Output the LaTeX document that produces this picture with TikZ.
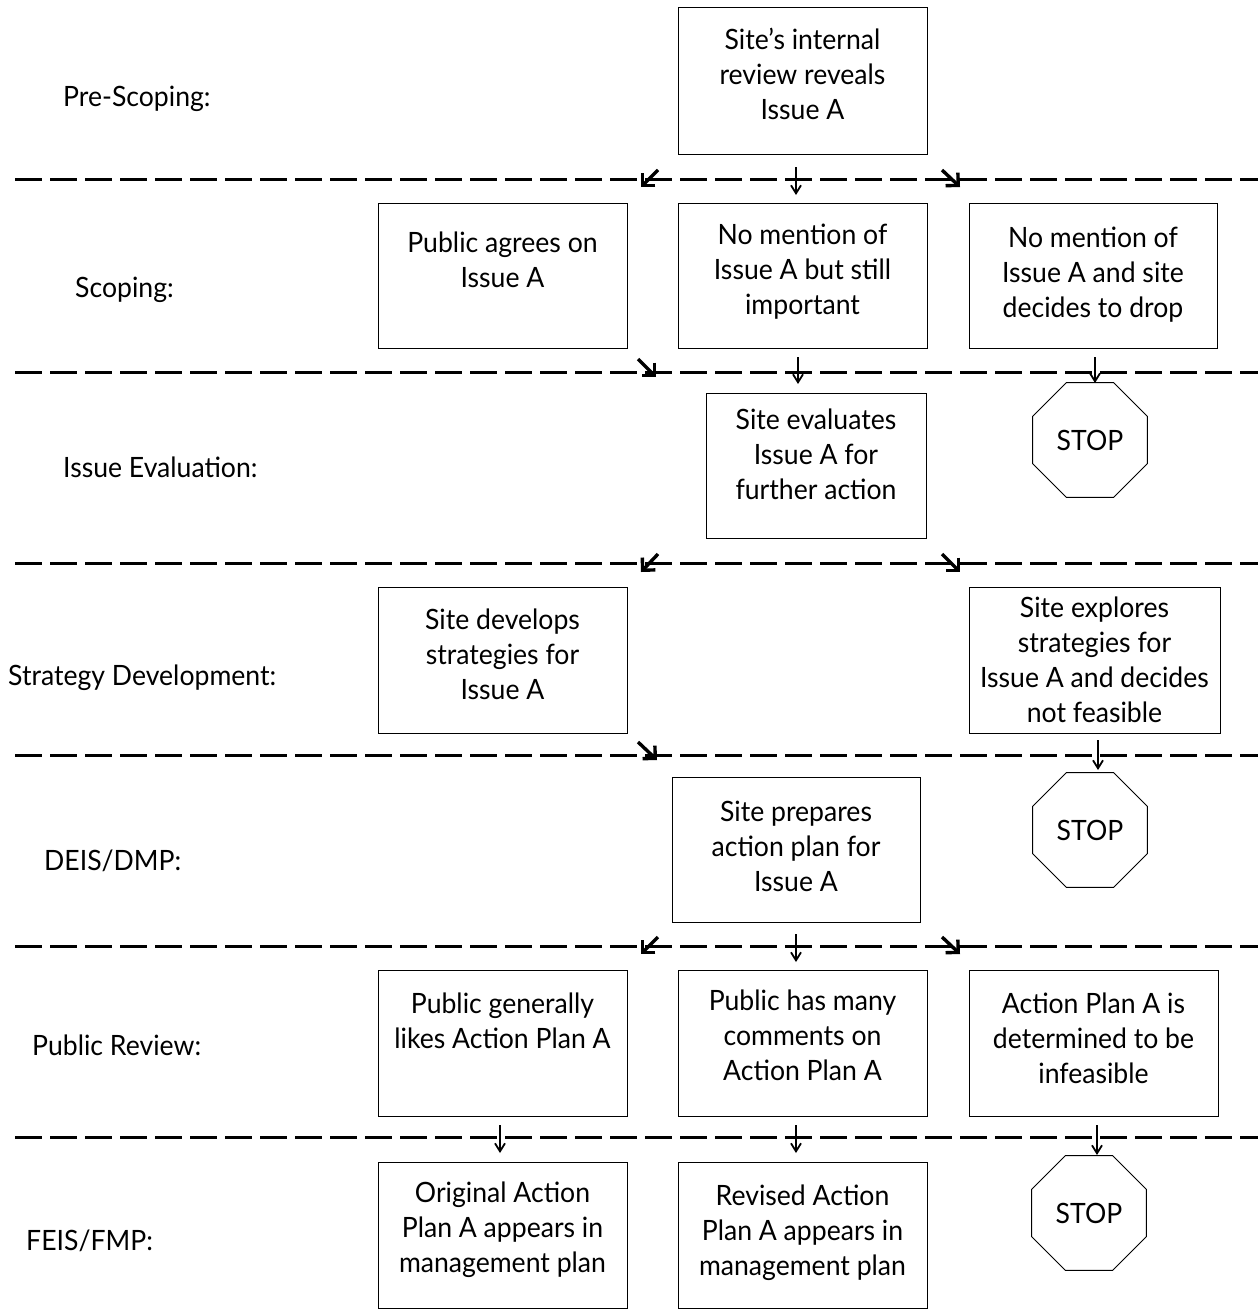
\documentclass[tikz,border=0pt]{standalone}
\usepackage{fontspec}
\setmainfont{Lato}[FakeStretch=0.95]
\usetikzlibrary{arrows.meta,shapes.geometric}

\begin{document}
\begin{tikzpicture}[x=1pt,y=-1pt,
  box/.style={draw=black,line width=1pt,anchor=north west,inner sep=0pt,outer sep=0pt},
  txt/.style={anchor=north,align=center,inner sep=0pt,font=\fontsize{28}{35}\selectfont},
  phase/.style={anchor=base west,inner sep=0pt,font=\fontsize{28}{35}\selectfont},
  stopsign/.style={draw=black,line width=1pt,regular polygon,regular polygon sides=8,
    minimum size=124pt,inner sep=0pt,outer sep=0pt,font=\fontsize{28}{35}\selectfont},
  divider/.style={line width=3pt,dash pattern=on 27pt off 8pt},
  down/.style={line width=1.6pt,-{Straight Barb[length=8pt,width=10pt,line width=1.8pt]}},
  slant/.style={line width=3.4pt,-{Straight Barb[length=9pt,width=18pt,line width=3.4pt]}}
]
\useasboundingbox (0,0) rectangle (1258,1310);

% ---- phase dividers ----
\foreach \n/\y in {1/179,2/372,3/563,4/755,5/946,6/1137}{
  \coordinate (d\n a) at (15,\y);
  \coordinate (d\n b) at (1270,\y);
  \draw[divider] (d\n a) -- (d\n b);
}

% ---- phase labels ----
\node[phase] (pPre)  at (63,106)  {Pre-Scoping:};
\node[phase] (pSc)   at (75,297)  {Scoping:};
\node[phase] (pIE)   at (63,477)  {Issue Evaluation:};
\node[phase] (pSD)   at (8,685)   {Strategy Development:};
\node[phase] (pDEIS) at (44,870)  {DEIS/DMP:};
\node[phase] (pPR)   at (32,1055) {Public Review:};
\node[phase] (pFEIS) at (26,1250) {FEIS/FMP:};

% ---- pre-scoping ----
\node[box,minimum width=249pt,minimum height=147pt] (b0) at (678,7) {};
\node[txt] (t0) at (802.5,28) {Site’s internal\\review reveals\\Issue A};

% ---- scoping ----
\node[box,minimum width=249pt,minimum height=145pt] (b1a) at (378,203) {};
\node[txt] (t1a) at (502.5,232) {Public agrees on\\Issue A};
\node[box,minimum width=249pt,minimum height=145pt] (b1b) at (678,203) {};
\node[txt] (t1b) at (802.5,224) {No mention of\\Issue A but still\\important};
\node[box,minimum width=248pt,minimum height=145pt] (b1c) at (969,203) {};
\node[txt] (t1c) at (1093,227) {No mention of\\Issue A and site\\decides to drop};

% ---- issue evaluation ----
\node[box,minimum width=220pt,minimum height=145pt] (b2) at (706,393) {};
\node[txt] (t2) at (816,409) {Site evaluates\\Issue A for\\further action};
\node[stopsign] (s1) at (1090,440) {STOP};

% ---- strategy development ----
\node[box,minimum width=249pt,minimum height=146pt] (b3a) at (378,587) {};
\node[txt] (t3a) at (502.5,609) {Site develops\\strategies for\\Issue A};
\node[box,minimum width=251pt,minimum height=146pt] (b3c) at (969,587) {};
\node[txt] (t3c) at (1094.5,597) {Site explores\\strategies for\\Issue A and decides\\not feasible};

% ---- DEIS/DMP ----
\node[box,minimum width=248pt,minimum height=145pt] (b4) at (672,777) {};
\node[txt] (t4) at (796,801) {Site prepares\\action plan for\\Issue A};
\node[stopsign] (s2) at (1090,830) {STOP};

% ---- public review ----
\node[box,minimum width=249pt,minimum height=146pt] (b5a) at (378,970) {};
\node[txt] (t5a) at (502.5,993) {Public generally\\likes Action Plan A};
\node[box,minimum width=249pt,minimum height=146pt] (b5b) at (678,970) {};
\node[txt] (t5b) at (802.5,990) {Public has many\\comments on\\Action Plan A};
\node[box,minimum width=249pt,minimum height=146pt] (b5c) at (969,970) {};
\node[txt] (t5c) at (1093.5,993) {Action Plan A is\\determined to be\\infeasible};

% ---- FEIS/FMP ----
\node[box,minimum width=249pt,minimum height=146pt] (b6a) at (378,1162) {};
\node[txt] (t6a) at (502.5,1182) {Original Action\\Plan A appears in\\management plan};
\node[box,minimum width=249pt,minimum height=146pt] (b6b) at (678,1162) {};
\node[txt] (t6b) at (802.5,1185) {Revised Action\\Plan A appears in\\management plan};
\node[stopsign] (s3) at (1089,1213) {STOP};

% ---- transition marks on the dividers ----
% pre-scoping -> scoping
\coordinate (a1Lt) at (658,170);  \coordinate (a1Lh) at (641,187);
\coordinate (a1Mt) at (796,167);  \coordinate (a1Mh) at (796,195);
\coordinate (a1Rt) at (942,170);  \coordinate (a1Rh) at (960,187);
\draw[slant] (a1Lt) -- (a1Lh);
\draw[down]  (a1Mt) -- (a1Mh);
\draw[slant] (a1Rt) -- (a1Rh);
% scoping -> issue evaluation
\coordinate (a2Lt) at (638,359);  \coordinate (a2Lh) at (656,377);
\coordinate (a2Mt) at (798,357);  \coordinate (a2Mh) at (798,384);
\coordinate (a2Rt) at (1095,357); \coordinate (a2Rh) at (1095,383);
\draw[slant] (a2Lt) -- (a2Lh);
\draw[down]  (a2Mt) -- (a2Mh);
\draw[down]  (a2Rt) -- (a2Rh);
% issue evaluation -> strategy development
\coordinate (a3Lt) at (658,554);  \coordinate (a3Lh) at (641,572);
\coordinate (a3Rt) at (942,554);  \coordinate (a3Rh) at (960,572);
\draw[slant] (a3Lt) -- (a3Lh);
\draw[slant] (a3Rt) -- (a3Rh);
% strategy development -> DEIS/DMP
\coordinate (a4Lt) at (638,742);  \coordinate (a4Lh) at (657,760);
\coordinate (a4Rt) at (1098,740); \coordinate (a4Rh) at (1098,770);
\draw[slant] (a4Lt) -- (a4Lh);
\draw[down]  (a4Rt) -- (a4Rh);
% DEIS/DMP -> public review
\coordinate (a5Lt) at (658,937);  \coordinate (a5Lh) at (641,954);
\coordinate (a5Mt) at (796,934);  \coordinate (a5Mh) at (796,962);
\coordinate (a5Rt) at (942,937);  \coordinate (a5Rh) at (960,954);
\draw[slant] (a5Lt) -- (a5Lh);
\draw[down]  (a5Mt) -- (a5Mh);
\draw[slant] (a5Rt) -- (a5Rh);
% public review -> FEIS/FMP
\coordinate (a6Lt) at (500,1125);  \coordinate (a6Lh) at (500,1153);
\coordinate (a6Mt) at (796,1125);  \coordinate (a6Mh) at (796,1153);
\coordinate (a6Rt) at (1097,1125); \coordinate (a6Rh) at (1097,1155);
\draw[down] (a6Lt) -- (a6Lh);
\draw[down] (a6Mt) -- (a6Mh);
\draw[down] (a6Rt) -- (a6Rh);
\end{tikzpicture}
\end{document}
